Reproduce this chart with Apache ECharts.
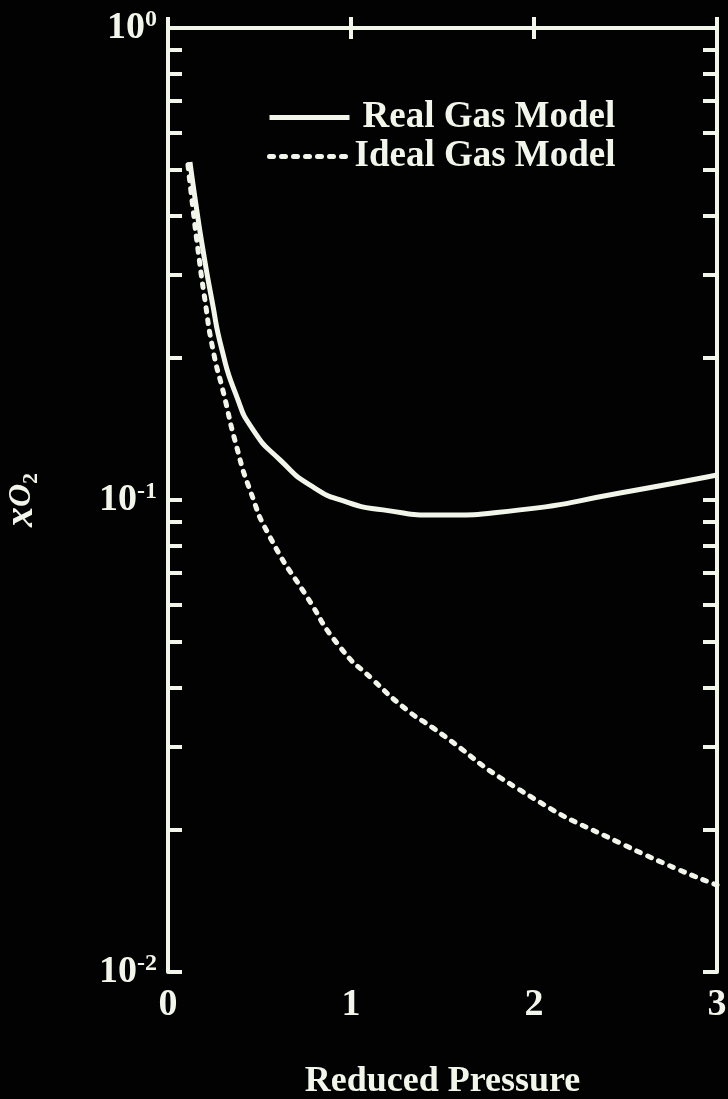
<!DOCTYPE html>
<html>
<head>
<meta charset="utf-8">
<script src="https://cdn.jsdelivr.net/npm/echarts@6.0.0/dist/echarts.min.js"></script>
<style>
    html, body { margin: 0; padding: 0; background: #020202; }
    #chart { width: 728px; height: 1099px; }
</style>
</head>
<body>
<div id="chart"></div>
<script>
    // 数据
    const realPressure = [0.12, 0.153, 0.191, 0.24, 0.295, 0.372, 0.464, 0.612, 0.792, 0.978, 1.175, 1.486, 1.923, 2.47, 3.0];
    const realX = [0.52, 0.422, 0.339, 0.265, 0.208, 0.167, 0.141, 0.1216, 0.1066, 0.099, 0.0953, 0.0929, 0.0953, 0.1035, 0.113];
    const idealPressure = [0.109, 0.131, 0.164, 0.202, 0.246, 0.306, 0.372, 0.448, 0.557, 0.76, 0.94, 1.12, 1.306, 1.448, 1.923, 2.47, 3.0];
    const idealX = [0.513, 0.432, 0.339, 0.265, 0.208, 0.167, 0.131, 0.105, 0.0835, 0.0623, 0.0488, 0.0416, 0.0359, 0.0329, 0.0243, 0.01876, 0.01528];
    const xTicks = [0, 1, 2, 3];
    const decades = [0.01, 0.1];
    const mantissas = [1, 2, 3, 4, 5, 6, 7, 8, 9];

    const fg = "#f2f6ea";
    const serif = "Liberation Serif";

    // 对数轴的小刻度（用线性轴上的 log10 值画）
    const logTicks = [];
    decades.forEach((d) => mantissas.forEach((m) => logTicks.push(Math.log10(d * m))));
    logTicks.push(0);

    const pair = (xs, ys) => xs.map((x, i) => [x, ys[i]]);

    const chart = echarts.init(document.getElementById("chart"));

    const xBase = {
        type: "value",
        min: 0,
        max: 3,
        interval: 1,
        splitLine: { show: false },
        axisLine: { show: true, lineStyle: { color: fg, width: 4 } },
        axisTick: { show: true, inside: true, length: 11, lineStyle: { color: fg, width: 4 } },
    };

    const yTickAxis = (position, showLine) => ({
        type: "value",
        min: -2,
        max: 0,
        position: position,
        splitLine: { show: false },
        axisLabel: { show: false },
        axisLine: { show: showLine, lineStyle: { color: fg, width: 4 } },
        axisTick: {
            show: true,
            inside: true,
            length: 14,
            customValues: logTicks,
            lineStyle: { color: fg, width: 4 },
        },
    });

    const legendText = { color: fg, fontSize: 37, fontFamily: serif, fontWeight: "bold" };
    const dash = [4, 8];

    chart.setOption({
        backgroundColor: "#020202",
        animation: false,
        grid: { left: 168, right: 11, top: 28, bottom: 127, containLabel: false, outerBoundsMode: "none" },
        legend: [
            {
                data: ["Real Gas Model"],
                left: 262,
                top: 94,
                itemWidth: 80,
                itemHeight: 24,
                selectedMode: false,
                itemStyle: { opacity: 0 },
                lineStyle: { width: 5 },
                textStyle: Object.assign({}, legendText, { padding: [0, 0, 0, 8] }),
            },
            {
                data: ["Ideal Gas Model"],
                left: 262,
                top: 133,
                itemWidth: 80,
                itemHeight: 24,
                selectedMode: false,
                itemStyle: { opacity: 0 },
                lineStyle: { width: 5, type: dash, cap: "round" },
                textStyle: legendText,
            },
        ],
        xAxis: [
            Object.assign({}, xBase, {
                position: "bottom",
                axisLabel: {
                    color: fg,
                    fontSize: 38,
                    fontFamily: serif,
                    fontWeight: "bold",
                    margin: 14,
                    formatter: (v) => (xTicks.includes(v) ? String(v) : ""),
                },
                name: "Reduced Pressure",
                nameLocation: "middle",
                nameGap: 92,
                nameTextStyle: { color: fg, fontSize: 36, fontFamily: serif, fontWeight: "bold" },
            }),
            Object.assign({}, xBase, {
                position: "top",
                axisLabel: { show: false },
            }),
        ],
        yAxis: [
            {
                type: "log",
                logBase: 10,
                min: 0.01,
                max: 1,
                position: "left",
                splitLine: { show: false },
                axisTick: { show: false },
                axisLine: { show: true, lineStyle: { color: fg, width: 4 } },
                axisLabel: {
                    margin: 11,
                    formatter: (v) => "{b|10}{s|" + Math.round(Math.log10(v)) + "}",
                    rich: {
                        b: { color: fg, fontSize: 38, fontFamily: serif, fontWeight: "bold", lineHeight: 40 },
                        s: { color: fg, fontSize: 24, fontFamily: serif, fontWeight: "bold", verticalAlign: "top", lineHeight: 24 },
                    },
                },
                name: "{i|x}{o|O}{sub|2}",
                nameLocation: "middle",
                nameGap: 126,
                nameRotate: 90,
                nameTextStyle: {
                    rich: {
                        i: { color: fg, fontSize: 40, fontFamily: serif, fontStyle: "italic", fontWeight: "bold", lineHeight: 40 },
                        o: { color: fg, fontSize: 32, fontFamily: serif, fontStyle: "italic", fontWeight: "bold", lineHeight: 40 },
                        sub: { color: fg, fontSize: 22, fontFamily: serif, fontWeight: "bold", verticalAlign: "bottom", lineHeight: 22 },
                    },
                },
            },
            yTickAxis("left", false),
            yTickAxis("right", true),
        ],
        series: [
            {
                name: "Real Gas Model",
                type: "line",
                xAxisIndex: 0,
                yAxisIndex: 0,
                data: pair(realPressure, realX),
                symbol: "none",
                smooth: 0.6,
                lineStyle: { color: fg, width: 5 },
                itemStyle: { color: fg },
            },
            {
                name: "Ideal Gas Model",
                type: "line",
                xAxisIndex: 0,
                yAxisIndex: 0,
                data: pair(idealPressure, idealX),
                symbol: "none",
                smooth: 0.6,
                lineStyle: { color: fg, width: 5, type: dash, cap: "round" },
                itemStyle: { color: fg },
            },
        ],
    });

    window.addEventListener("resize", () => chart.resize());
</script>
</body>
</html>
